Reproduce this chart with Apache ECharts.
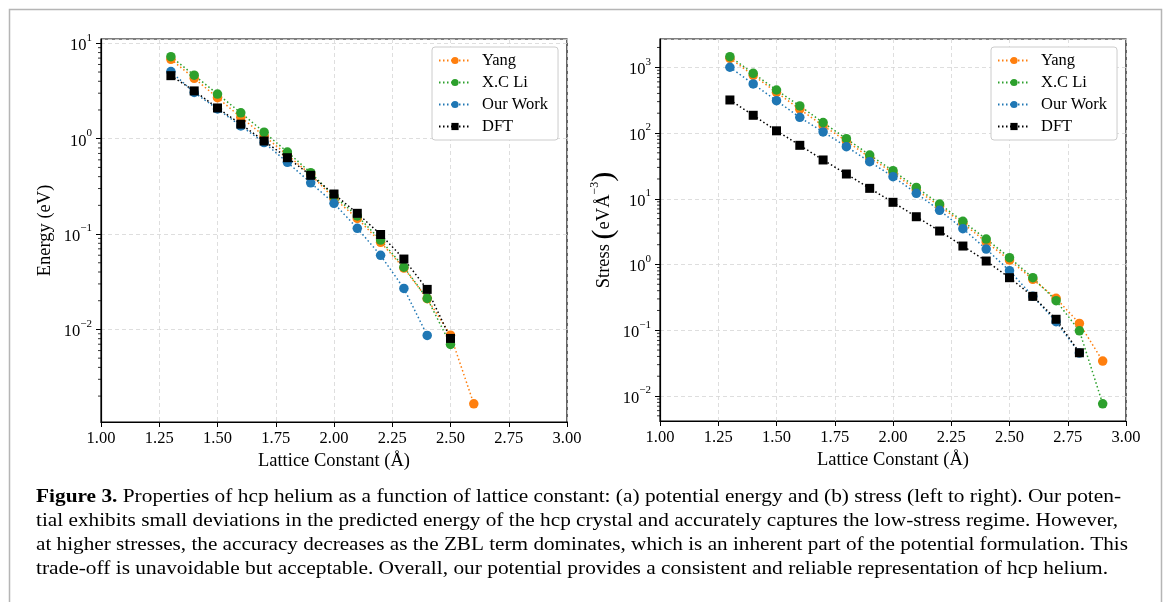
<!DOCTYPE html>
<html>
<head>
<meta charset="utf-8">
<title>Figure 3</title>
<script src="https://cdn.jsdelivr.net/npm/echarts@6/dist/echarts.min.js"></script>
<style>
  html, body { margin: 0; padding: 0; background: #fff; }
  #chart { width: 1166px; height: 602px; }
</style>
</head>
<body>
<div id="chart"></div>
<script>
// lattice constants (Å)
var latticeX = [1.3, 1.4, 1.5, 1.6, 1.7, 1.8, 1.9, 2.0, 2.1, 2.2, 2.3, 2.4, 2.5, 2.6, 2.7, 2.8, 2.9];

// (a) energy, eV
var energyYang = [6.8, 4.3, 2.69, 1.68, 1.07, 0.674, 0.42, 0.237, 0.146, 0.082, 0.044, 0.021, 0.0087, 0.00166];
var energyLi = [7.25, 4.63, 2.94, 1.87, 1.17, 0.725, 0.44, 0.25, 0.155, 0.0865, 0.045, 0.0211, 0.00696];
var energyOurs = [5.05, 3.05, 2.05, 1.36, 0.91, 0.565, 0.345, 0.21, 0.115, 0.0598, 0.0269, 0.00865];
var energyDFT = [4.58, 3.17, 2.1, 1.42, 0.946, 0.632, 0.413, 0.263, 0.165, 0.099, 0.0547, 0.0263, 0.00805];

// (b) stress, eV/Å^3
var stressYang = [1370, 755, 416, 230, 129, 75.7, 42.2, 24.9, 13.6, 7.77, 4.23, 2.2, 1.17, 0.595, 0.306, 0.127, 0.034];
var stressLi = [1449, 810, 451, 258, 144, 82, 46.3, 26.7, 14.9, 8.32, 4.54, 2.44, 1.27, 0.63, 0.282, 0.098, 0.0076];
var stressOurs = [1000, 557, 310, 173, 104, 62, 36.6, 21.7, 12.1, 6.67, 3.51, 1.72, 0.805, 0.33, 0.135, 0.045];
var stressDFT = [318, 186, 108, 65, 38.9, 23.8, 14.4, 8.83, 5.33, 3.23, 1.91, 1.13, 0.63, 0.328, 0.147, 0.0455];

// axis ticks
var xTicks = ['1.00', '1.25', '1.50', '1.75', '2.00', '2.25', '2.50', '2.75', '3.00'];
var minorMult = [2, 3, 4, 5, 6, 7, 8, 9];
var energyDecades = [0.001, 0.01, 0.1, 1];
var stressDecades = [0.001, 0.01, 0.1, 1, 10, 100, 1000];

var legendNames = ['Yang', 'X.C Li', 'Our Work', 'DFT'];
var colors = ['#ff7f0e', '#2ca02c', '#1f77b4', '#000000'];

var captionLines = [
  'Properties of hcp helium as a function of lattice constant: (a) potential energy and (b) stress (left to right). Our poten-',
  'tial exhibits small deviations in the predicted energy of the hcp crystal and accurately captures the low-stress regime. However,',
  'at higher stresses, the accuracy decreases as the ZBL term dominates, which is an inherent part of the potential formulation. This',
  'trade-off is unavoidable but acceptable. Overall, our potential provides a consistent and reliable representation of hcp helium.'
];
var captionRight = [1121, 1118, 1128, 1108];

var SERIF = '"Liberation Serif", "DejaVu Serif", serif';
var CAP_SIZE = 18.5;

function pairs(ys) {
  var out = [];
  for (var i = 0; i < ys.length; i++) out.push([latticeX[i], ys[i]]);
  return out;
}

function minorValues(decades, lo, hi) {
  var out = [];
  for (var i = 0; i < decades.length; i++) {
    for (var j = 0; j < minorMult.length; j++) {
      var v = decades[i] * minorMult[j];
      if (v > lo && v < hi) out.push([1, v]);
    }
  }
  return out;
}

function logLabel(v) {
  var n = Math.round(Math.log10(v));
  var s = n < 0 ? '\u2212' + (-n) : '' + n;
  return '{b|10}{s|' + s + '}';
}

var tickRich = {
  b: { fontFamily: SERIF, fontSize: 16.5, color: '#000', padding: [5, 0, 0, 0] },
  s: { fontFamily: SERIF, fontSize: 11, color: '#000', verticalAlign: 'top' }
};

function xAxisFor(gi) {
  return {
    type: 'value', gridIndex: gi, min: 1, max: 3, interval: 0.25,
    name: 'Lattice Constant (\u00c5)', nameLocation: 'middle', nameGap: 30,
    nameTextStyle: { fontFamily: SERIF, fontSize: 18.5, color: '#000' },
    axisLine: { onZero: false, lineStyle: { color: '#000', width: 1.2 } },
    axisTick: { length: 5, lineStyle: { color: '#000', width: 1 } },
    axisLabel: {
      fontFamily: SERIF, fontSize: 16.5, color: '#000', margin: 8,
      formatter: function (v) { return xTicks[Math.round((v - 1) / 0.25)]; }
    },
    splitLine: { show: true, lineStyle: { color: '#d5d5d5', type: [4, 3], width: 0.8 } }
  };
}

function yAxisFor(gi, min, max, split, name, nameGap, rich) {
  return {
    type: 'log', logBase: 10, gridIndex: gi, min: min, max: max, splitNumber: split,
    name: name, nameLocation: 'middle', nameGap: nameGap,
    nameTextStyle: { fontFamily: SERIF, fontSize: 18.5, color: '#000', rich: rich },
    axisLine: { lineStyle: { color: '#000', width: 1.2 } },
    axisTick: { length: 5, lineStyle: { color: '#000', width: 1 } },
    axisLabel: {
      margin: 9, showMinLabel: false, showMaxLabel: false,
      formatter: logLabel, rich: tickRich
    },
    splitLine: { show: true, lineStyle: { color: '#d5d5d5', type: [4, 3], width: 0.8 } }
  };
}

function lineSeries(gi, idx, ys) {
  return {
    type: 'line', name: legendNames[idx], xAxisIndex: gi, yAxisIndex: gi,
    data: pairs(ys),
    symbol: idx === 3 ? 'rect' : 'circle', symbolSize: idx === 3 ? 9 : 9.5,
    itemStyle: { color: colors[idx] },
    lineStyle: { color: colors[idx], width: 1.5, type: [1.5, 2.5] },
    emphasis: { disabled: true }
  };
}

function minorTickSeries(gi, vals) {
  return {
    type: 'custom', xAxisIndex: gi, yAxisIndex: gi, silent: true, clip: false,
    data: vals,
    renderItem: function (params, api) {
      var p = api.coord([api.value(0), api.value(1)]);
      return {
        type: 'line',
        shape: { x1: p[0] - 3, y1: p[1], x2: p[0], y2: p[1] },
        style: { stroke: '#000', lineWidth: 0.8 }
      };
    }
  };
}

function legendAt(left) {
  return {
    data: legendNames, orient: 'vertical', left: left, top: 47,
    itemWidth: 32, itemHeight: 9, itemGap: 5,
    padding: [5, 10, 5, 6],
    backgroundColor: '#fff', borderColor: '#cccccc', borderWidth: 1, borderRadius: 3,
    textStyle: { fontFamily: SERIF, fontSize: 16.5, color: '#000', padding: [0, 0, 0, 6] },
    selectedMode: false
  };
}

// caption, squeezed to match the justified lines of the figure text
var ctx = document.createElement('canvas').getContext('2d');
function textWidth(str, weight) {
  ctx.font = weight + ' ' + CAP_SIZE + 'px "Liberation Serif"';
  return ctx.measureText(str).width;
}
var captionGraphics = [];
for (var i = 0; i < captionLines.length; i++) {
  var w, txt;
  if (i === 0) {
    w = textWidth('Figure 3.', 'bold') + textWidth(' ' + captionLines[0], 'normal');
    txt = '{b|Figure 3.} ' + captionLines[0];
  } else {
    w = textWidth(captionLines[i], 'normal');
    txt = captionLines[i];
  }
  captionGraphics.push({
    type: 'text', x: 36, y: 497 + i * 24.2, scaleX: (captionRight[i] - 36) / w,
    style: {
      text: txt, font: CAP_SIZE + 'px "Liberation Serif"', fill: '#000', verticalAlign: 'middle',
      rich: { b: { fontFamily: 'Liberation Serif', fontSize: CAP_SIZE, fontWeight: 'bold', fill: '#000' } }
    }
  });
}
captionGraphics.push({
  type: 'rect', z: -1,
  shape: { x: 9.5, y: 9.5, width: 1152, height: 700 },
  style: { fill: 'none', stroke: '#b5b5b5', lineWidth: 1.5 }
});

var myChart = echarts.init(document.getElementById('chart'), null, { renderer: 'canvas' });

var option = {
  animation: false,
  backgroundColor: '#fff',
  grid: [
    { left: 101, top: 39, width: 466, height: 383, show: true, borderColor: '#000', borderWidth: 1.2, backgroundColor: 'transparent' },
    { left: 660, top: 39, width: 466, height: 382, show: true, borderColor: '#000', borderWidth: 1.2, backgroundColor: 'transparent' }
  ],
  legend: [legendAt(432), legendAt(991)],
  xAxis: [xAxisFor(0), xAxisFor(1)],
  yAxis: [
    yAxisFor(0, 0.00107, 11.1, 4, 'Energy (eV)', 46, {}),
    yAxisFor(1, 0.00417, 2690, 6, 'Stress {p|(}eV\u00c5{s|\u22123}{p|)}', 38, {
      p: { fontFamily: SERIF, fontSize: 30, color: '#000' },
      s: { fontFamily: SERIF, fontSize: 12, color: '#000', verticalAlign: 'top' }
    })
  ],
  series: [
    lineSeries(0, 0, energyYang),
    lineSeries(0, 1, energyLi),
    lineSeries(0, 2, energyOurs),
    lineSeries(0, 3, energyDFT),
    lineSeries(1, 0, stressYang),
    lineSeries(1, 1, stressLi),
    lineSeries(1, 2, stressOurs),
    lineSeries(1, 3, stressDFT),
    minorTickSeries(0, minorValues(energyDecades, 0.00107, 11.1)),
    minorTickSeries(1, minorValues(stressDecades, 0.00417, 2690))
  ],
  graphic: captionGraphics
};

myChart.setOption(option);
</script>
</body>
</html>
